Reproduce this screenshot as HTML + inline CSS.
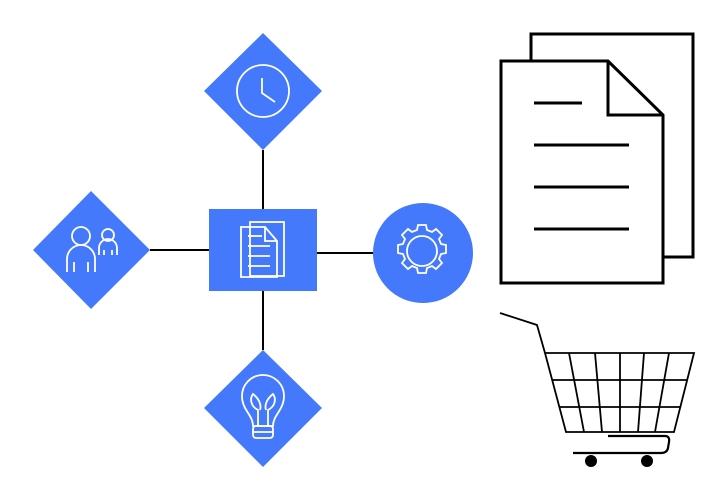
<!DOCTYPE html>
<html><head><style>html,body{margin:0;padding:0;background:#fff}svg{display:block}</style></head>
<body>
<svg width="728" height="500" viewBox="0 0 728 500" xmlns="http://www.w3.org/2000/svg">
<rect width="728" height="500" fill="#fff"/>
<g stroke="#000" stroke-width="2">
<line x1="263" y1="150" x2="263" y2="210"/>
<line x1="263" y1="290" x2="263" y2="350"/>
<line x1="150" y1="250" x2="210" y2="250"/>
<line x1="316" y1="253" x2="374" y2="253"/>
</g>
<g fill="#4479fb">
<polygon points="263,33 322,91 263,150 204,91"/>
<polygon points="91,191 150,250 91,309 33,250"/>
<polygon points="263,350 322,408 263,467 204,408"/>
<rect x="209" y="209" width="108" height="82"/>
<circle cx="423" cy="253" r="50"/>
</g>
<g fill="none" stroke="#fff" stroke-width="1.8">
<!-- clock -->
<circle cx="263" cy="91" r="26"/>
<polyline points="262,78 262,93 275,102"/>
<!-- people -->
<circle cx="81" cy="236" r="9"/>
<path d="M67,272 V259 a14,14 0 0 1 28,0 V272 M74,272 V262 M88,272 V262"/>
<circle cx="108" cy="235" r="6"/>
<path d="M99,255 V248 a9,9 0 0 1 18,0 V255 M104,255 V250 M112,255 V250"/>
<!-- docs icon -->
<rect x="250" y="222" width="34" height="54"/>
<path d="M241,227 H265 L277,241 V277 H241 Z"/>
<path d="M265,227 V241 H277"/>
<line x1="248" y1="236" x2="262" y2="236"/><line x1="248" y1="246" x2="270" y2="246"/><line x1="248" y1="256" x2="270" y2="256"/><line x1="248" y1="266" x2="270" y2="266"/>
<!-- gear -->
<circle cx="422" cy="251" r="15"/>
<path d="M418,225 h8 l1,5 l5,2 l4,-3 l6,6 l-3,4 l2,5 l5,1 v8 l-5,1 l-2,5 l3,4 l-6,6 l-4,-3 l-5,2 l-1,5 h-8 l-1,-5 l-5,-2 l-4,3 l-6,-6 l3,-4 l-2,-5 l-5,-1 v-8 l5,-1 l2,-5 l-3,-4 l6,-6 l4,3 l5,-2 z"/>
<!-- bulb -->
<path d="M253,426 C253,415 242,410 242,396 a21,21 0 0 1 42,0 C284,410 273,415 273,426 Z"/>
<path d="M258,426 V410 C250,406 250,398 253,394 C258,398 262,404 260,410 M268,426 V410 C276,406 276,398 273,394 C268,398 264,404 266,410"/>
<rect x="253" y="426" width="20" height="12" rx="3"/>
<line x1="253" y1="432" x2="273" y2="432"/>
</g>
<g fill="none" stroke="#000" stroke-width="3">
<rect x="531" y="34" width="162" height="223" fill="#fff"/>
<path d="M501,61 H608 L663,115 V283 H501 Z" fill="#fff"/>
<path d="M608,61 V115 H663"/>
<line x1="534" y1="103" x2="582" y2="103"/>
<line x1="534" y1="145" x2="629" y2="145"/>
<line x1="534" y1="187" x2="629" y2="187"/>
<line x1="534" y1="229" x2="629" y2="229"/>
</g>
<g fill="none" stroke="#000" stroke-width="1.8">
<polyline points="500,313 537,325 545,353"/>
<polygon points="545,353 694,353 674,432 566,432"/>
<line x1="552" y1="380" x2="687" y2="380"/>
<line x1="559" y1="407" x2="680" y2="407"/>
<line x1="569" y1="353" x2="584" y2="432"/>
<line x1="595" y1="353" x2="602" y2="432"/>
<line x1="620" y1="353" x2="620" y2="432"/>
<line x1="644" y1="353" x2="638" y2="432"/>
<line x1="669" y1="353" x2="655" y2="432"/>
<path d="M608,436 H665 Q670,436 669,442 L668,448 Q667,453 661,453 H573" stroke-width="2.2"/>
</g>
<circle cx="591" cy="461" r="6"/>
<circle cx="647" cy="461" r="6"/>
</svg>
</body></html>
